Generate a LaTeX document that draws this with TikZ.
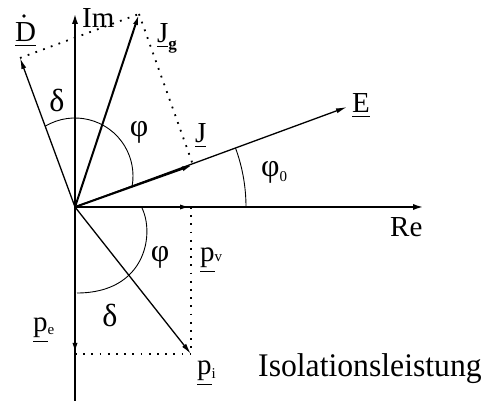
\documentclass[tikz,border=0pt]{standalone}
\usepackage{fontspec}
\setmainfont{Liberation Serif}
\usetikzlibrary{arrows.meta}
\newcommand\myul[1]{\leavevmode\vtop{\hbox{#1}\kern2.6pt\hrule height 1.2pt}}
\newcommand\mysub[2]{\raisebox{#1}{\fontsize{15}{15}\selectfont #2}}
\begin{document}
\begin{tikzpicture}[x=1pt,y=-1pt,
  axis/.style={line width=2.6pt,-{Latex[length=12pt,width=6pt]}},
  vec/.style={line width=2pt,-{Latex[length=11pt,width=5pt]}},
  thinvec/.style={line width=1.3pt,-{Latex[length=11pt,width=5pt]}},
  dots/.style={line width=1.8pt,dash pattern=on 1.8pt off 6.4pt},
  angarc/.style={line width=0.9pt},
  lab/.style={inner sep=0pt,anchor=base west,font=\fontsize{29}{31}\selectfont},
  greek/.style={inner sep=0pt,font=\fontsize{32}{34}\selectfont},
]
\useasboundingbox (0,0) rectangle (488,403);
% points
\coordinate (O) at (75,207);
\coordinate (ImTop) at (75,12);
\coordinate (ImBot) at (75,401);
\coordinate (ReEnd) at (425,207);
\coordinate (D) at (20,58);
\coordinate (Jg) at (139,14);
\coordinate (J) at (193,165);
\coordinate (E) at (347,107);
\coordinate (pv) at (191,207);
\coordinate (pe) at (75,354);
\coordinate (pi) at (191,354);
\coordinate (c1) at (75,176);
% axes
\draw[axis] (ImBot) -- (ImTop);
\draw[axis] (O) -- (ReEnd);
% vectors
\draw[thinvec] (O) -- (E);
\draw[thinvec] (O) -- (D);
\draw[vec] (O) -- (Jg);
\draw[vec] (O) -- (J);
\draw[vec] (O) -- (pv);
\draw[vec] (O) -- (pe);
\draw[thinvec] (O) -- (pi);
% dotted construction lines
\draw[dots] (D) -- (Jg);
\draw[dots] (Jg) -- (J);
\draw[dots] (pv) -- (pi);
\draw[dots] (pe) -- (pi);
% angle arcs
\draw[angarc] (c1) ++(-121:58) arc[start angle=-121, end angle=10, radius=58];
\draw[angarc] (246,207) arc[start angle=0, end angle=-20.2, radius=171];
\draw[angarc] (142,208) .. controls (155,235) and (145,293) .. (77,293);
% labels
\node[lab] (Dl) at (15,42) {\myul{D}};
\fill (24,16) circle[radius=1.8];
\node[lab] (Iml) at (82,28) {Im};
\node[lab] (Jgl) at (157,43) {\myul{J}\raisebox{-7pt}{\fontsize{17}{17}\selectfont\bfseries g}};
\node[lab] (Jl) at (195,143) {\myul{J}};
\node[lab] (El) at (352,113) {\myul{E}};
\node[lab] (Rel) at (390,237) {Re};
\node[lab,font=\fontsize{32}{34}\selectfont] (phi0) at (261,177) {φ\mysub{-5pt}{0}};
\node[greek] (phiU) at (139,132) {φ};
\node[greek] (deltaU) at (57,100) {δ};
\node[greek] (phiL) at (160,257) {φ};
\node[greek] (deltaL) at (110,315) {δ};
\node[lab] (pvl) at (200,262) {\myul{p}\mysub{0pt}{v}};
\node[lab] (pel) at (33,332) {\myul{p}\mysub{-3pt}{e}};
\node[lab] (pil) at (197,375) {\myul{p}\mysub{-4pt}{i}};
\node[lab,font=\fontsize{33}{36}\selectfont] (iso) at (258,377) {\scalebox{0.96}[1]{Isolationsleistung}};
\end{tikzpicture}
\end{document}
